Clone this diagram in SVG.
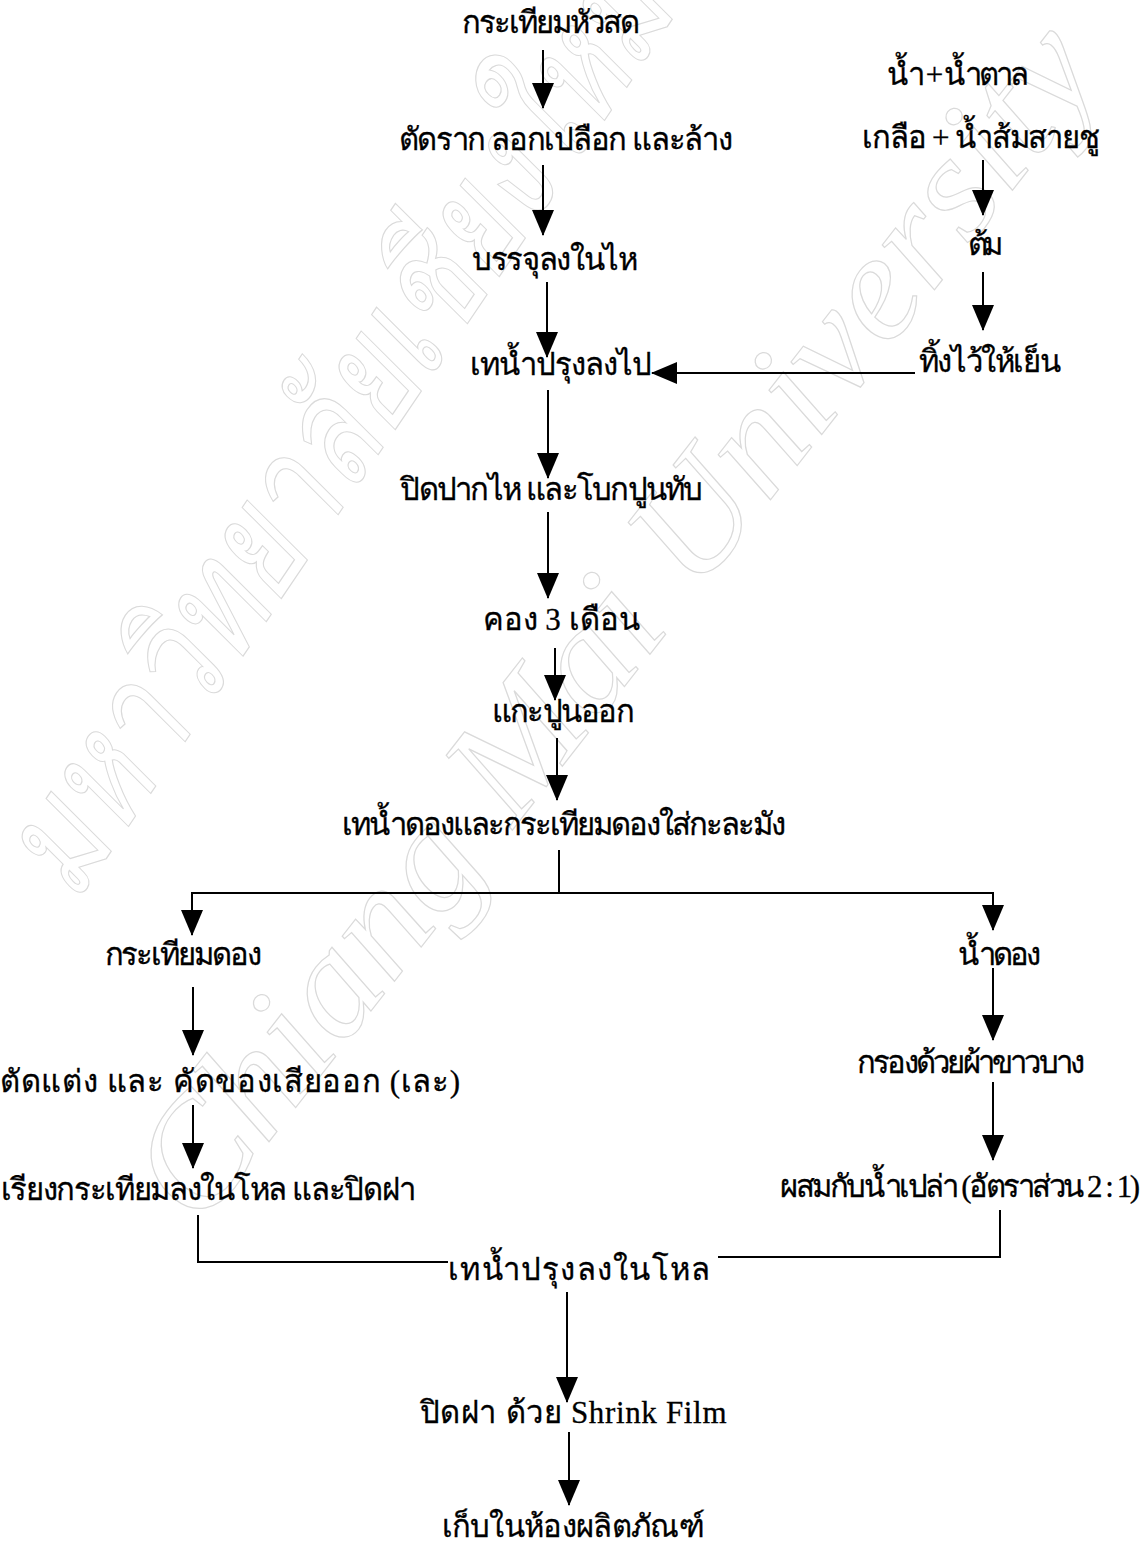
<svg xmlns="http://www.w3.org/2000/svg" width="1146" height="1547" viewBox="0 0 1146 1547">
<style>
.t{font-family:"Liberation Serif","Noto Sans CJK SC",serif;font-size:31px;fill:#000;stroke:#000;stroke-width:0.3;text-anchor:middle}
.c{stroke:#000;stroke-width:2;fill:none}
.wm{font-family:"Liberation Serif",serif;font-style:italic;fill:none;stroke:#dadada;stroke-width:1.2}
</style>
<defs>
<marker id="ah" markerUnits="userSpaceOnUse" markerWidth="26" markerHeight="22" refX="25" refY="11" orient="auto" viewBox="0 0 26 22">
<path d="M0,0 L26,11 L0,22 Z" fill="#000"/>
</marker>
</defs>
<g id="watermark">
<text class="wm" font-size="150" transform="translate(75,905) rotate(-56)" textLength="1080" lengthAdjust="spacingAndGlyphs">มหาวิทยาลัยเชียงใหม่</text>
<text class="wm" font-size="150" transform="translate(200,1230) rotate(-52)" textLength="1470" lengthAdjust="spacingAndGlyphs">Chiang Mai University</text>
</g>
<g id="connectors">
<line class="c" x1="543" y1="50" x2="543" y2="108" marker-end="url(#ah)"/>
<line class="c" x1="543" y1="165" x2="543" y2="235" marker-end="url(#ah)"/>
<line class="c" x1="547" y1="282" x2="547" y2="357" marker-end="url(#ah)"/>
<line class="c" x1="983" y1="160" x2="983" y2="215" marker-end="url(#ah)"/>
<line class="c" x1="983" y1="272" x2="983" y2="330" marker-end="url(#ah)"/>
<line class="c" x1="915" y1="373" x2="652" y2="373" marker-end="url(#ah)"/>
<line class="c" x1="548" y1="390" x2="548" y2="478" marker-end="url(#ah)"/>
<line class="c" x1="548" y1="512" x2="548" y2="598" marker-end="url(#ah)"/>
<line class="c" x1="555" y1="648" x2="555" y2="700" marker-end="url(#ah)"/>
<line class="c" x1="557" y1="738" x2="557" y2="800" marker-end="url(#ah)"/>
<line class="c" x1="559" y1="850" x2="559" y2="893"/>
<line class="c" x1="192" y1="893" x2="993" y2="893"/>
<line class="c" x1="192" y1="892" x2="192" y2="935" marker-end="url(#ah)"/>
<line class="c" x1="993" y1="892" x2="993" y2="930" marker-end="url(#ah)"/>
<line class="c" x1="193" y1="987" x2="193" y2="1055" marker-end="url(#ah)"/>
<line class="c" x1="993" y1="968" x2="993" y2="1040" marker-end="url(#ah)"/>
<line class="c" x1="193" y1="1105" x2="193" y2="1168" marker-end="url(#ah)"/>
<line class="c" x1="993" y1="1082" x2="993" y2="1160" marker-end="url(#ah)"/>
<polyline class="c" points="198,1215 198,1262 448,1262"/>
<polyline class="c" points="1000,1210 1000,1257 718,1257"/>
<line class="c" x1="567" y1="1292" x2="567" y2="1402" marker-end="url(#ah)"/>
<line class="c" x1="569" y1="1432" x2="569" y2="1505" marker-end="url(#ah)"/>
</g>
<g id="n1"><text class="t" x="551" y="33" textLength="178">กระเทียมหัวสด</text></g>
<g id="r1"><text class="t" x="956" y="85" textLength="142">น้ำ + น้ำตาล</text></g>
<g id="r2"><text class="t" x="981" y="148" textLength="238">เกลือ + น้ำส้มสายชู</text></g>
<g id="r3"><text class="t" x="983" y="255" textLength="35">ต้ม</text></g>
<g id="r4"><text class="t" x="989" y="372" textLength="142">ทิ้งไว้ให้เย็น</text></g>
<g id="n2"><text class="t" x="565" y="150" textLength="334">ตัดราก ลอกเปลือก และล้าง</text></g>
<g id="n3"><text class="t" x="555" y="270" textLength="166">บรรจุลงในไห</text></g>
<g id="n4"><text class="t" x="561" y="375" textLength="182">เทน้ำปรุงลงไป</text></g>
<g id="n5"><text class="t" x="551" y="500" textLength="303">ปิดปากไห และโบกปูนทับ</text></g>
<g id="n6"><text class="t" x="561" y="630" textLength="157">คอง 3 เดือน</text></g>
<g id="n7"><text class="t" x="563" y="722" textLength="143">แกะปูนออก</text></g>
<g id="n8"><text class="t" x="564" y="835" textLength="444">เทน้ำดองและกระเทียมดองใส่กะละมัง</text></g>
<g id="n9"><text class="t" x="183" y="965" textLength="157">กระเทียมดอง</text></g>
<g id="n10"><text class="t" x="998" y="965" textLength="83">น้ำดอง</text></g>
<g id="n11"><text class="t" x="230" y="1092" textLength="460">ตัดแต่ง และ คัดของเสียออก (เละ)</text></g>
<g id="n12"><text class="t" x="971" y="1073" textLength="228">กรองด้วยผ้าขาวบาง</text></g>
<g id="n13"><text class="t" x="208" y="1200" textLength="415">เรียงกระเทียมลงในโหล และปิดฝา</text></g>
<g id="n14"><text class="t" x="960" y="1197" textLength="360">ผสมกับน้ำเปล่า (อัตราส่วน 2 : 1)</text></g>
<g id="n15"><text class="t" x="579" y="1280" textLength="262">เทน้ำปรุงลงในโหล</text></g>
<g id="n16"><text class="t" x="573" y="1423" textLength="307">ปิดฝา ด้วย Shrink Film</text></g>
<g id="n17"><text class="t" x="573" y="1537" textLength="263">เก็บในห้องผลิตภัณฑ์</text></g>
</svg>
